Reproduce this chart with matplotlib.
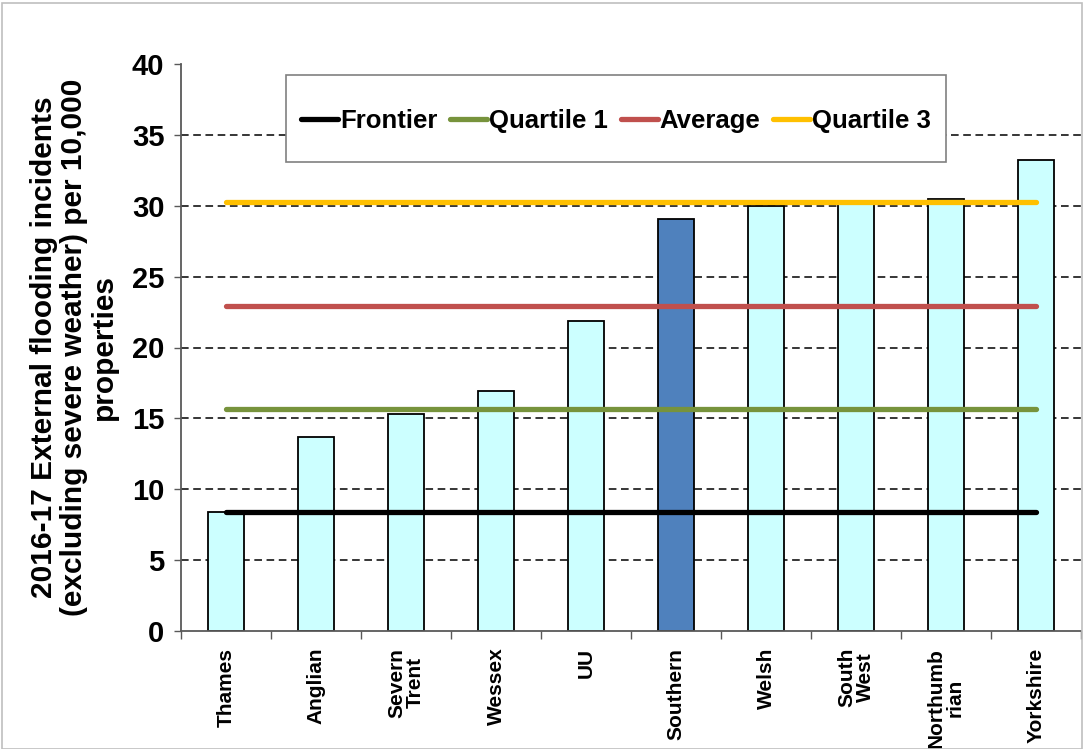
import matplotlib
matplotlib.use("Agg")
import matplotlib.pyplot as plt
from matplotlib.patches import Rectangle

plt.rcParams['font.family'] = ['Liberation Sans', 'DejaVu Sans']

companies = ["Thames", "Anglian", "Severn\nTrent", "Wessex", "UU", "Southern",
             "Welsh", "South\nWest", "Northumb\nrian", "Yorkshire"]
incidents = [8.4, 13.7, 15.3, 16.9, 21.9, 29.1, 30.0, 30.2, 30.5, 33.2]
highlight = "Southern"

ref_names = ["Frontier", "Quartile 1", "Average", "Quartile 3"]
ref_values = [8.4, 15.65, 22.9, 30.25]
ref_colors = ["#000000", "#77933C", "#C0504D", "#FFC000"]

yticks = list(range(0, 41, 5))

fig = plt.figure(figsize=(10.85, 7.49), dpi=100)
fig.patches.append(Rectangle((0.002, 0.0), 0.995, 0.996, transform=fig.transFigure,
                             fill=False, edgecolor="#BFBFBF", linewidth=1.2))
ax = fig.add_axes([181 / 1085, 118 / 749, 900 / 1085, 567 / 749])

x = list(range(len(companies)))
colors = ["#4F81BD" if c == highlight else "#CCFFFF" for c in companies]
ax.bar(x, incidents, width=0.41, color=colors, edgecolor="black", linewidth=1.3, zorder=2)

for name, val, col in zip(ref_names, ref_values, ref_colors):
    ax.plot([x[0], x[-1]], [val, val], color=col, lw=3.8, solid_capstyle="round",
            label=name, zorder=3)

# dashed gridlines, none at the top or bottom
for t in yticks[1:-1]:
    ax.axhline(t, color="black", linestyle=(0, (5, 3)), linewidth=1.1, zorder=1)

ax.set_xlim(-0.5, len(companies) - 0.5)
ax.set_ylim(0, 40)
ax.set_yticks(yticks)
for s in ["top", "right"]:
    ax.spines[s].set_visible(False)
for s in ["left", "bottom"]:
    ax.spines[s].set_color("#595959")
    ax.spines[s].set_linewidth(1.3)

ax.tick_params(axis="y", length=5, width=1, color="#595959", pad=7,
               labelsize=21)
for lab in ax.get_yticklabels():
    lab.set_fontweight("bold")

ax.set_xticks(x)
ax.set_xticklabels(companies, rotation=90, fontsize=15, fontweight="bold",
                   linespacing=1.0, va="top")
ax.tick_params(axis="x", length=0, pad=12)
ax.set_xticks([i - 0.5 for i in range(len(companies) + 1)], minor=True)
ax.tick_params(axis="x", which="minor", length=6, width=1, color="#595959")

ax.set_ylabel("2016-17 External flooding incidents\n(excluding severe weather) per 10,000\nproperties",
              fontsize=21.5, fontweight="bold", linespacing=1.1, labelpad=10)

# legend box drawn separately so the entries can sit centred inside it
box = (105 / 900, 469 / 567, 660 / 900, 87 / 567)
ax.add_patch(Rectangle(box[:2], box[2], box[3], transform=ax.transAxes, facecolor="white",
                       edgecolor="#808080", linewidth=1.2, zorder=4, clip_on=False))
leg = ax.legend(loc="center", bbox_to_anchor=(box[0] + box[2] / 2, box[1] + box[3] / 2 - 0.004),
                ncol=4, frameon=False, prop={"weight": "bold", "size": 18.5},
                handlelength=1.45, handletextpad=0.06, columnspacing=0.5,
                borderaxespad=0, borderpad=0)
leg.set_zorder(5)

fig.savefig("out.png", dpi=100)
